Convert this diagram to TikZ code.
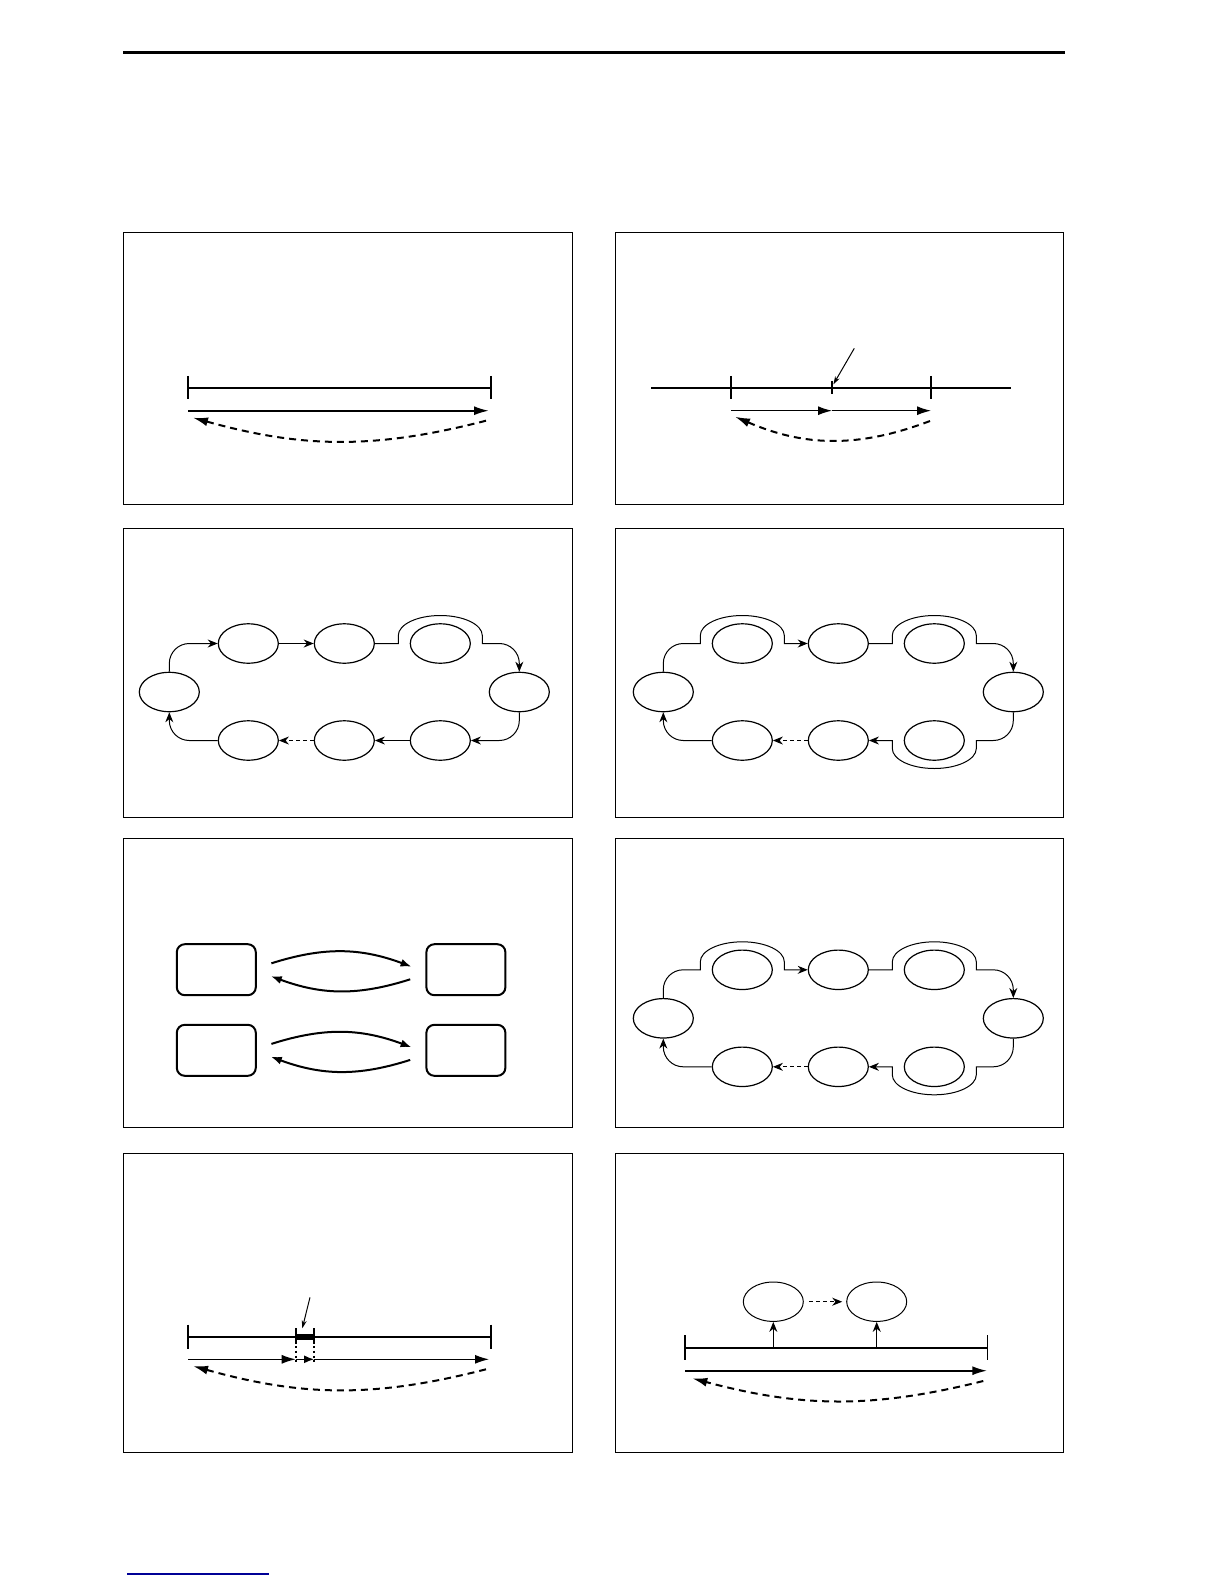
\documentclass[tikz,border=0pt]{standalone}
\usepackage{tikz}
\usetikzlibrary{shapes.geometric, arrows.meta}
\definecolor{linkblue}{RGB}{0,0,150}
\tikzstyle{state} = [ellipse, draw=black, line width=0.6pt, minimum
    width=30pt, minimum height=19.7pt, inner sep=0pt]
\tikzstyle{host} = [rectangle, rounded corners=4pt, draw=black,
    line width=1pt, minimum width=39.5pt, minimum height=25.5pt]
\tikzstyle{panelbox} = [draw=black, line width=0.5pt]
\tikzstyle{timeline} = [line width=1pt]
\tikzstyle{bigarrow} = [line width=1pt, -{Latex[length=7.5pt,width=4.5pt]}]
\tikzstyle{thinarrow} = [line width=0.6pt, -{Latex[length=7pt,width=4.5pt]}]
\tikzstyle{backarrow} = [bigarrow, dash pattern=on 3.5pt off 2.5pt]
\tikzstyle{flow} = [line width=1pt, -{Latex[length=5.5pt,width=4pt]}]
\tikzstyle{link} = [line width=0.5pt, -{Stealth[length=5pt,width=4pt]}]
\tikzstyle{hop} = [link, rounded corners=10pt]
\tikzstyle{skip} = [link, dash pattern=on 2pt off 1.5pt]
\tikzstyle{pointer} = [line width=0.5pt, -{Stealth[length=4pt,width=2.5pt]}]

\begin{document}
\begin{tikzpicture}[x=0.5pt, y=-0.5pt]
            \useasboundingbox (0,0) rectangle (1224,1584);
            % Page rules
            \draw[line width=1.2pt] (123,52.5) -- (1065,52.5);
            \draw[linkblue, line width=0.6pt] (127,1574) -- (269,1574);
            % Panels
            \foreach \ya/\yb in {232/504, 528/817, 838/1127, 1153/1452} {
                \draw[panelbox] (123,\ya) rectangle (572,\yb);
                \draw[panelbox] (615,\ya) rectangle (1063,\yb);
            }

            % Panel 1
            \coordinate (a1) at (188,387.5);
            \coordinate (b1) at (491,387.5);
            \draw[timeline] (a1) -- (b1);
            \draw[timeline] ([yshift=5.8pt]a1) -- ([yshift=-5.8pt]a1);
            \draw[timeline] ([yshift=5.8pt]b1) -- ([yshift=-5.8pt]b1);
            \coordinate (f1) at (188,410.7);
            \coordinate (g1) at (489,410.7);
            \draw[bigarrow] (f1) -- (g1);
            \coordinate (h1) at (486,420.7);
            \coordinate (k1) at (193,417.7);
            \draw[backarrow] (h1) to[bend left=15] (k1);

            % Panel 2
            \coordinate (a2) at (651,387.5);
            \coordinate (b2) at (1011,387.5);
            \coordinate (s2) at (731,387.5);
            \coordinate (m2) at (832,387.5);
            \coordinate (e2) at (931,387.5);
            \draw[timeline] (a2) -- (b2);
            \draw[timeline] ([yshift=5.8pt]s2) -- ([yshift=-5.8pt]s2);
            \draw[timeline] ([yshift=5.8pt]e2) -- ([yshift=-5.8pt]e2);
            \draw[timeline] ([yshift=3.3pt]m2) -- ([yshift=-3.3pt]m2);
            \coordinate (n2) at (854.3,348.3);
            \draw[pointer] (n2) -- ([xshift=0.7pt,yshift=1.6pt]m2);
            \coordinate (f2) at (731,410.7);
            \coordinate (g2) at (832,410.7);
            \coordinate (k2) at (931,410.7);
            \draw[thinarrow] (f2) -- (g2);
            \draw[thinarrow] (g2) -- (k2);
            \coordinate (h2) at (930,421);
            \coordinate (l2) at (735,416.7);
            \draw[backarrow] (h2) to[bend left=22] (l2);

            % Panel 3
            \begin{scope}[shift={(169.3,692)}, node distance=48pt]
                \node[state] (p3l) at (0,0) {};
                \node[state] (p3t1) at (79,-48.5) {};
                \node[state, right of=p3t1] (p3t2) {};
                \node[state, right of=p3t2] (p3t3) {};
                \node[state] (p3r) at (350,0) {};
                \node[state] (p3b1) at (79,48.5) {};
                \node[state, right of=p3b1] (p3b2) {};
                \node[state, right of=p3b2] (p3b3) {};
                % Arrows
                \draw[hop] (p3l.north) |- (p3t1.west);
                \draw[link] (p3t1) -- (p3t2);
                \draw[link] (p3t2.east) -- (229,-48.5) -- (229,-56.5)
                    arc[start angle=180, end angle=360, x radius=42, y radius=20]
                    -- (313,-48.5) -- (330,-48.5) to[out=0, in=90] (350,-28.5)
                    -- (p3r.north);
                \draw[hop] (p3r.south) |- (p3b3.east);
                \draw[link] (p3b3) -- (p3b2);
                \draw[skip] (p3b2) -- (p3b1);
                \draw[hop] (p3b1.west) -| (p3l.south);
            \end{scope}

            % Panel 4
            \begin{scope}[shift={(663.3,692)}, node distance=48pt]
                \node[state] (p4l) at (0,0) {};
                \node[state] (p4t1) at (79,-48.5) {};
                \node[state, right of=p4t1] (p4t2) {};
                \node[state, right of=p4t2] (p4t3) {};
                \node[state] (p4r) at (350,0) {};
                \node[state] (p4b1) at (79,48.5) {};
                \node[state, right of=p4b1] (p4b2) {};
                \node[state, right of=p4b2] (p4b3) {};
                % Arrows
                \draw[link] (p4l.north) -- (0,-28.5) to[out=90, in=180] (20,-48.5)
                    -- (37,-48.5) -- (37,-56.5)
                    arc[start angle=180, end angle=360, x radius=42, y radius=20]
                    -- (121,-48.5) -- (p4t2.west);
                \draw[link] (p4t2.east) -- (229,-48.5) -- (229,-56.5)
                    arc[start angle=180, end angle=360, x radius=42, y radius=20]
                    -- (313,-48.5) -- (330,-48.5) to[out=0, in=90] (350,-28.5)
                    -- (p4r.north);
                \draw[link] (p4r.south) -- (350,28.5) to[out=-90, in=0] (330,48.5)
                    -- (313,48.5) -- (313,56.5)
                    arc[start angle=0, end angle=180, x radius=42, y radius=20]
                    -- (229,48.5) -- (p4b2.east);
                \draw[skip] (p4b2) -- (p4b1);
                \draw[hop] (p4b1.west) -| (p4l.south);
            \end{scope}

            % Panel 5
            \node[host] (h1) at (216.3,969.7) {};
            \node[host, right of=h1, node distance=124.8pt] (h2) {};
            \node[host, below of=h1, node distance=40.3pt] (h3) {};
            \node[host, below of=h2, node distance=40.3pt] (h4) {};
            % Arrows
            \draw[flow] ([xshift=7.3pt,yshift=3.2pt]h1.east) to[bend left=19]
                ([xshift=-6.9pt,yshift=1.5pt]h2.west);
            \draw[flow] ([xshift=-7.6pt,yshift=-4.8pt]h2.west) to[bend left=19]
                ([xshift=7pt,yshift=-3.2pt]h1.east);
            \draw[flow] ([xshift=7.3pt,yshift=3.2pt]h3.east) to[bend left=19]
                ([xshift=-6.9pt,yshift=1.5pt]h4.west);
            \draw[flow] ([xshift=-7.6pt,yshift=-4.8pt]h4.west) to[bend left=19]
                ([xshift=7pt,yshift=-3.2pt]h3.east);

            % Panel 6
            \begin{scope}[shift={(663.3,1018.3)}, node distance=48pt]
                \node[state] (p6l) at (0,0) {};
                \node[state] (p6t1) at (79,-48.5) {};
                \node[state, right of=p6t1] (p6t2) {};
                \node[state, right of=p6t2] (p6t3) {};
                \node[state] (p6r) at (350,0) {};
                \node[state] (p6b1) at (79,48.5) {};
                \node[state, right of=p6b1] (p6b2) {};
                \node[state, right of=p6b2] (p6b3) {};
                % Arrows
                \draw[link] (p6l.north) -- (0,-28.5) to[out=90, in=180] (20,-48.5)
                    -- (37,-48.5) -- (37,-56.5)
                    arc[start angle=180, end angle=360, x radius=42, y radius=20]
                    -- (121,-48.5) -- (p6t2.west);
                \draw[link] (p6t2.east) -- (229,-48.5) -- (229,-56.5)
                    arc[start angle=180, end angle=360, x radius=42, y radius=20]
                    -- (313,-48.5) -- (330,-48.5) to[out=0, in=90] (350,-28.5)
                    -- (p6r.north);
                \draw[link] (p6r.south) -- (350,28.5) to[out=-90, in=0] (330,48.5)
                    -- (313,48.5) -- (313,56.5)
                    arc[start angle=0, end angle=180, x radius=42, y radius=20]
                    -- (229,48.5) -- (p6b2.east);
                \draw[skip] (p6b2) -- (p6b1);
                \draw[hop] (p6b1.west) -| (p6l.south);
            \end{scope}

            % Panel 7
            \coordinate (a7) at (188,1336.7);
            \coordinate (b7) at (491,1336.7);
            \coordinate (c7) at (295.7,1336.7);
            \coordinate (d7) at (314,1336.7);
            \draw[timeline] (a7) -- (b7);
            \draw[timeline] ([yshift=6pt]a7) -- ([yshift=-6pt]a7);
            \draw[timeline] ([yshift=6pt]b7) -- ([yshift=-6pt]b7);
            \draw[line width=3pt] (c7) -- (d7);
            \draw[timeline] ([yshift=4.2pt]c7) -- ([yshift=-2.2pt]c7);
            \draw[timeline] ([yshift=4.2pt]d7) -- ([yshift=-2.2pt]d7);
            \draw[line width=0.9pt, dash pattern=on 1.2pt off 1.2pt]
                ([yshift=-2.2pt]c7) -- ([yshift=-12.5pt]c7);
            \draw[line width=0.9pt, dash pattern=on 1.2pt off 1.2pt]
                ([yshift=-2.2pt]d7) -- ([yshift=-12.5pt]d7);
            \coordinate (n7) at (310,1297.3);
            \draw[pointer] (n7) -- ([xshift=3.3pt,yshift=4.2pt]c7);
            \coordinate (f7) at (188,1359.3);
            \coordinate (g7) at (295.7,1359.3);
            \coordinate (k7) at (314,1359.3);
            \coordinate (m7) at (489,1359.3);
            \draw[thinarrow] (f7) -- (g7);
            \draw[thinarrow, -{Latex[length=5pt,width=4pt]}] (g7) -- (k7);
            \draw[thinarrow] (k7) -- (m7);
            \coordinate (h7) at (486,1369.3);
            \coordinate (l7) at (193,1366);
            \draw[backarrow] (h7) to[bend left=15] (l7);

            % Panel 8
            \node[state, line width=0.5pt] (q1) at (773.3,1301.7) {};
            \node[state, line width=0.5pt, right of=q1, node distance=51.7pt] (q2) {};
            \draw[skip, shorten <=2.7pt, shorten >=2pt] (q1) -- (q2);
            \coordinate (a8) at (685,1347.7);
            \coordinate (b8) at (987.3,1347.7);
            \draw[timeline] (a8) -- (b8);
            \draw[line width=0.8pt] ([yshift=6.2pt]a8) -- ([yshift=-6pt]a8);
            \draw[line width=0.8pt] ([yshift=6.2pt]b8) -- ([yshift=-6pt]b8);
            \draw[link] (q1.south |- a8) -- (q1.south);
            \draw[link] (q2.south |- a8) -- (q2.south);
            \coordinate (f8) at (685,1370.7);
            \coordinate (g8) at (987.3,1370.7);
            \draw[bigarrow] (f8) -- (g8);
            \coordinate (h8) at (983.3,1381);
            \coordinate (l8) at (692.3,1378.3);
            \draw[backarrow] (h8) to[bend left=14.5] (l8);
        \end{tikzpicture}
\end{document}
